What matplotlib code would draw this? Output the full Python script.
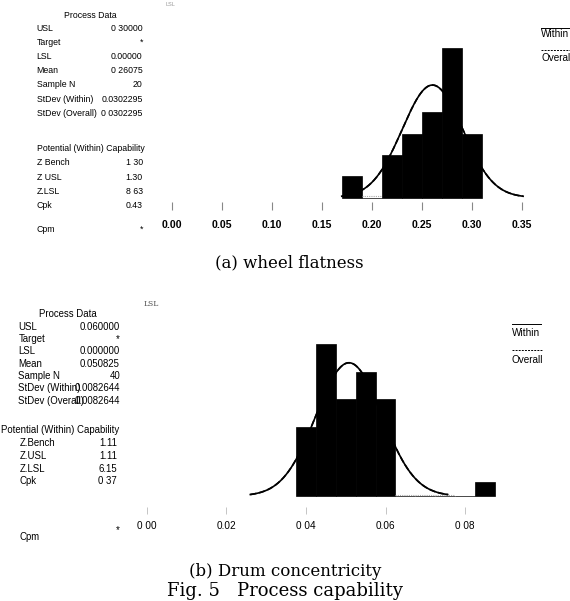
import numpy as np
import matplotlib
matplotlib.use("Agg")
import matplotlib.pyplot as plt

# ---------------------------------------------------------------------------
# Data
# ---------------------------------------------------------------------------

# (a) wheel flatness
a_bin_centers = [0.18, 0.20, 0.22, 0.24, 0.26, 0.28, 0.30]
a_counts = [1, 0, 2, 3, 4, 7, 3]
a_bin_width = 0.02
a_mean = 0.26075
a_sd = 0.0302295
a_n = 20
a_ticks = [0.00, 0.05, 0.10, 0.15, 0.20, 0.25, 0.30, 0.35]
a_tick_labels = ["0.00", "0.05", "0.10", "0.15", "0.20", "0.25", "0.30", "0.35"]
a_data_labels = ["USL", "Target", "LSL", "Mean", "Sample N",
                 "StDev (Within)", "StDev (Overall)"]
a_data_values = ["0 30000", "*", "0.00000", "0 26075", "20",
                 "0.0302295", "0 0302295"]
a_cap_labels = ["Z Bench", "Z USL", "Z.LSL", "Cpk"]
a_cap_values = ["1 30", "1.30", "8 63", "0.43"]

# (b) drum concentricity
b_bin_centers = [0.040, 0.045, 0.050, 0.055, 0.060, 0.065, 0.070, 0.075, 0.080, 0.085]
b_counts = [5, 11, 7, 9, 7, 0, 0, 0, 0, 1]
b_bin_width = 0.005
b_mean = 0.050825
b_sd = 0.0082644
b_n = 40
b_ticks = [0.00, 0.02, 0.04, 0.06, 0.08]
b_tick_labels = ["0 00", "0.02", "0 04", "0.06", "0 08"]
b_data_labels = ["USL", "Target", "LSL", "Mean", "Sample N",
                 "StDev (Within)", "StDev (Overall)"]
b_data_values = ["0.060000", "*", "0.000000", "0.050825", "40",
                 "0.0082644", "0.0082644"]
b_cap_labels = ["Z.Bench", "Z.USL", "Z.LSL", "Cpk"]
b_cap_values = ["1.11", "1.11", "6.15", "0 37"]

W, H = 570, 601
SANS = "Liberation Sans"
SERIF = "DejaVu Serif"

fig = plt.figure(figsize=(W / 100, H / 100), dpi=100)


def ftext(x, y, s, **kw):
    """Text placed by pixel position measured from the top-left corner."""
    kw.setdefault("va", "center")
    kw.setdefault("family", SANS)
    fig.text(x / W, 1 - y / H, s, **kw)


def hist_axes(left, top, right, bottom, x_zero, x_scale, y_base, y_scale):
    ax = fig.add_axes([left / W, 1 - bottom / H, (right - left) / W, (bottom - top) / H])
    ax.set_xlim((left - x_zero) / x_scale, (right - x_zero) / x_scale)
    ax.set_ylim((y_base - bottom) / y_scale, (y_base - top) / y_scale)
    for s in ax.spines.values():
        s.set_visible(False)
    ax.set_yticks([])
    return ax


def draw_hist(ax, centers, counts, width, mean, sd, n):
    centers = np.array(centers)
    counts = np.array(counts)
    ax.bar(centers, counts, width=width, color="black", edgecolor="black", lw=0.5)
    xs = np.linspace(mean - 3 * sd, mean + 3 * sd, 300)
    ys = n * width * np.exp(-0.5 * ((xs - mean) / sd) ** 2) / (sd * np.sqrt(2 * np.pi))
    # empty bins inside the fitted range show as a faint dotted baseline
    for c, k in zip(centers, counts):
        if k == 0 and xs[0] < c < xs[-1]:
            ax.plot([c - width / 2, c + width / 2], [0.05, 0.05], color="#aaaaaa",
                    lw=0.8, ls=(0, (1, 1)))
    ax.plot(xs, ys, color="black", lw=1.2)
    ax.plot(xs, ys, color="black", lw=1.2, ls="--")


# ── (a) wheel flatness ─────────────────────────────────────────────────────
ax1 = hist_axes(150, 20, 570, 210, 171.7, 1000.0, 197.5, 21.3)
draw_hist(ax1, a_bin_centers, a_counts, a_bin_width, a_mean, a_sd, a_n)
ax1.set_xticks(a_ticks)
ax1.set_xticklabels(a_tick_labels, fontsize=7.6, fontweight="bold", family=SANS)
ax1.tick_params(axis="x", direction="in", length=6, width=0.8, color="#888888", pad=7)

ftext(90, 15, "Process Data", fontsize=6.3, ha="center")
for i, (lab, val) in enumerate(zip(a_data_labels, a_data_values)):
    y = 28.5 + i * 14.1
    ftext(36.7, y, lab, fontsize=6.3, ha="left")
    ftext(142.7, y, val, fontsize=6.3, ha="right")
ftext(36.7, 148.5, "Potential (Within) Capability", fontsize=6.3, ha="left")
for i, (lab, val) in enumerate(zip(a_cap_labels, a_cap_values)):
    y = 162.8 + i * 14.2
    ftext(36.7, y, lab, fontsize=6.3, ha="left")
    ftext(142.7, y, val, fontsize=6.3, ha="right")
ftext(36.7, 229.5, "Cpm", fontsize=6.3, ha="left")
ftext(142.7, 229.5, "*", fontsize=6.3, ha="right")
ftext(170, 5, "LSL", fontsize=4, ha="center", color="#999999")

# legend (cut by the right edge as in the reference)
fig.add_artist(plt.Line2D([541 / W, 1.02], [1 - 28 / H] * 2, color="black", lw=0.7))
fig.add_artist(plt.Line2D([541 / W, 1.02], [1 - 50 / H] * 2, color="black", lw=0.7,
                          ls=(0, (2, 1.2))))
ftext(541, 34, "Within", fontsize=7.2, ha="left")
ftext(541, 58, "Overall", fontsize=7.2, ha="left")

ftext(289, 263, "(a) wheel flatness", fontsize=12, ha="center", family=SERIF)

# ── (b) drum concentricity ─────────────────────────────────────────────────
ax2 = hist_axes(130, 320, 570, 514, 146.7, 3980.0, 496.0, 13.8)
draw_hist(ax2, b_bin_centers, b_counts, b_bin_width, b_mean, b_sd, b_n)
ax2.set_xticks(b_ticks)
ax2.set_xticklabels(b_tick_labels, fontsize=7.2, family=SANS)
ax2.tick_params(axis="x", direction="in", length=5, width=0.6, color="#bbbbbb", pad=5)

ftext(68, 314, "Process Data", fontsize=6.9, ha="center")
for i, (lab, val) in enumerate(zip(b_data_labels, b_data_values)):
    y = 326.7 + i * 12.3
    ftext(18.3, y, lab, fontsize=6.9, ha="left")
    ftext(120, y, val, fontsize=6.9, ha="right")
ftext(1, 430, "Potential (Within) Capability", fontsize=6.9, ha="left")
for i, (lab, val) in enumerate(zip(b_cap_labels, b_cap_values)):
    y = 443.5 + i * 12.6
    ftext(19.3, y, lab, fontsize=6.9, ha="left")
    ftext(117, y, val, fontsize=6.9, ha="right")
ftext(19.3, 537, "Cpm", fontsize=6.9, ha="left")
ftext(120, 530, "*", fontsize=6.9, ha="right")
ftext(151, 304, "LSL", fontsize=5.5, ha="center", color="#555555", family=SERIF)

fig.add_artist(plt.Line2D([512 / W, 541 / W], [1 - 324 / H] * 2, color="black", lw=0.7))
fig.add_artist(plt.Line2D([512 / W, 543 / W], [1 - 350 / H] * 2, color="black", lw=0.7,
                          ls=(0, (2, 1.2))))
ftext(512, 333, "Within", fontsize=7.2, ha="left")
ftext(512, 360, "Overall", fontsize=7.2, ha="left")

ftext(285, 571, "(b) Drum concentricity", fontsize=12, ha="center", family=SERIF)
ftext(285, 591, "Fig. 5   Process capability", fontsize=13, ha="center", family=SERIF)

fig.savefig("out.png", dpi=100)
